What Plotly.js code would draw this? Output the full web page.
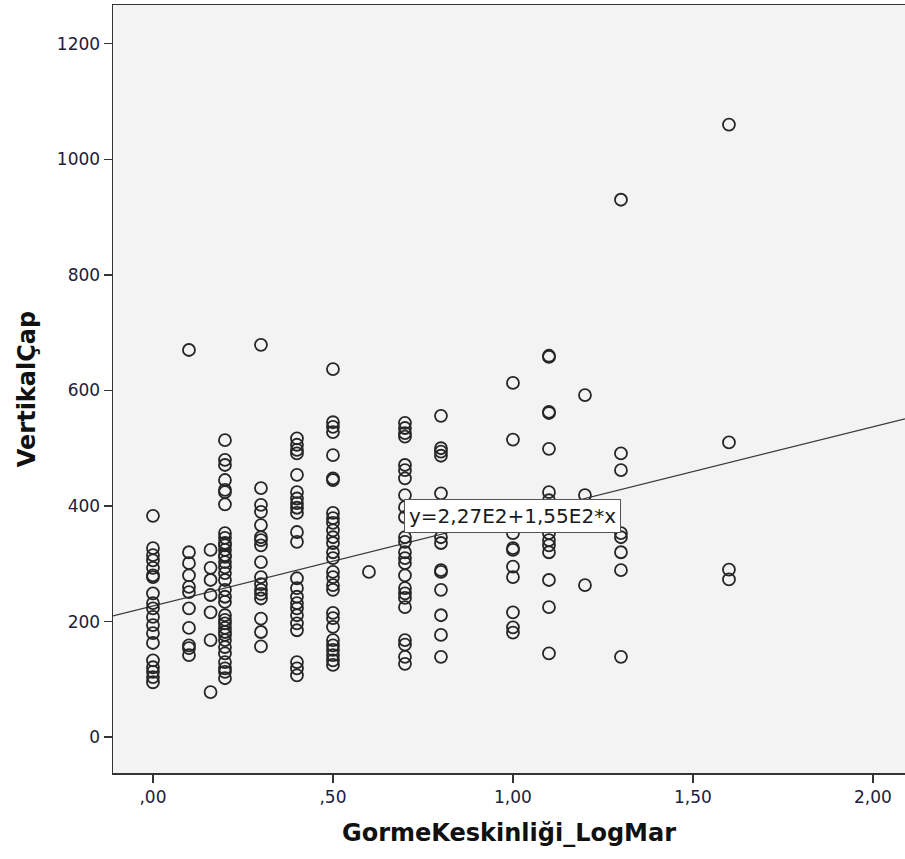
<!DOCTYPE html>
<html>
<head>
<meta charset="utf-8">
<script src="https://cdn.plot.ly/plotly-3.0.1.min.js"></script>
<style>
  html, body { margin: 0; padding: 0; background: #ffffff; }
  #chart { width: 905px; height: 859px; }
</style>
</head>
<body>
<div id="chart"></div>
<script>
// Vertical diameter measured at each LogMAR visual-acuity level
const logmarLevels = [0, 0.1, 0.16, 0.2, 0.3, 0.4, 0.5, 0.6, 0.7, 0.8, 1.0, 1.1, 1.2, 1.3, 1.6];

const cap_000 = [383, 327, 315, 306, 293, 280, 277, 249, 232, 223, 208, 194, 180, 163, 133, 121, 113, 104, 95];
const cap_010 = [670, 320, 301, 280, 260, 251, 223, 189, 159, 154, 142];
const cap_016 = [324, 293, 272, 246, 216, 168, 78];
const cap_020 = [514, 480, 471, 445, 428, 424, 403, 353, 345, 336, 332, 324, 315, 312, 303, 294, 284, 272, 255, 243, 234, 211, 203, 197, 189, 182, 177, 168, 156, 145, 130, 119, 113, 102];
const cap_030 = [679, 431, 402, 390, 367, 346, 341, 332, 303, 277, 265, 255, 248, 240, 205, 182, 157];
const cap_040 = [517, 506, 497, 491, 454, 424, 413, 405, 397, 388, 355, 338, 275, 258, 243, 232, 223, 211, 197, 185, 130, 119, 107];
const cap_050 = [637, 545, 537, 528, 488, 448, 445, 388, 379, 371, 358, 346, 336, 320, 310, 286, 277, 263, 255, 215, 206, 191, 168, 159, 151, 142, 133, 125];
const cap_060 = [286];
const cap_070 = [544, 535, 526, 520, 471, 462, 448, 419, 398, 381, 346, 338, 320, 310, 301, 280, 258, 249, 241, 225, 168, 160, 139, 127];
const cap_080 = [556, 500, 494, 487, 422, 346, 336, 289, 286, 255, 211, 177, 139];
const cap_100 = [613, 515, 353, 327, 324, 295, 277, 216, 190, 181];
const cap_110 = [660, 658, 563, 561, 499, 424, 410, 353, 341, 332, 320, 272, 225, 145];
const cap_120 = [592, 419, 263];
const cap_130 = [930, 491, 462, 353, 346, 320, 289, 139];
const cap_160 = [1060, 510, 290, 273];

const capByLevel = [cap_000, cap_010, cap_016, cap_020, cap_030, cap_040, cap_050, cap_060,
                    cap_070, cap_080, cap_100, cap_110, cap_120, cap_130, cap_160];

// Linear fit: y = 2,27E2 + 1,55E2 * x
const fitIntercept = 227;
const fitSlope = 155;

const xTickVals = [0, 0.5, 1.0, 1.5, 2.0];
const xTickText = [",00", ",50", "1,00", "1,50", "2,00"];
const yTickVals = [0, 200, 400, 600, 800, 1000, 1200];

const xRange = [-0.111, 2.089];
const yRange = [-62, 1267];

const px = [], py = [];
logmarLevels.forEach((lv, i) => {
  capByLevel[i].forEach(v => { px.push(lv); py.push(v); });
});

const scatter = {
  type: 'scatter',
  mode: 'markers',
  x: px,
  y: py,
  marker: {
    symbol: 'circle-open',
    size: 12,
    color: '#262626',
    line: { width: 1.8, color: '#262626' }
  },
  hoverinfo: 'x+y',
  showlegend: false
};

const fitLine = {
  type: 'scatter',
  mode: 'lines',
  x: xRange,
  y: xRange.map(v => fitIntercept + fitSlope * v),
  line: { color: '#3a3a3a', width: 1.2 },
  hoverinfo: 'skip',
  showlegend: false
};

const tickFont = { family: 'DejaVu Sans, Verdana, sans-serif', size: 17, color: '#20203a' };
const titleFont = { family: 'DejaVu Sans, sans-serif', size: 24, color: '#111111', weight: 'bold' };

const layout = {
  width: 905,
  height: 859,
  margin: { l: 113, r: 0, t: 5, b: 86 },
  paper_bgcolor: '#ffffff',
  plot_bgcolor: '#f3f3f3',
  xaxis: {
    range: xRange,
    tickvals: xTickVals,
    ticktext: xTickText,
    ticks: 'outside',
    ticklen: 8,
    tickwidth: 1.5,
    tickcolor: '#333333',
    tickfont: tickFont,
    showgrid: false,
    zeroline: false,
    showline: true,
    mirror: true,
    linecolor: '#333333',
    linewidth: 1.5,
    title: { text: 'GormeKeskinliği_LogMar', font: titleFont, standoff: 18 }
  },
  yaxis: {
    range: yRange,
    tickvals: yTickVals,
    ticks: 'outside',
    ticklen: 8,
    tickwidth: 1.5,
    tickcolor: '#333333',
    tickfont: tickFont,
    showgrid: false,
    zeroline: false,
    showline: true,
    mirror: false,
    linecolor: '#333333',
    linewidth: 1.5,
    title: { text: 'VertikalÇap', font: titleFont, standoff: 14 }
  },
  annotations: [{
    x: 1.0,
    y: 382,
    xref: 'x',
    yref: 'y',
    text: 'y=2,27E2+1,55E2*x',
    showarrow: false,
    font: { family: 'DejaVu Sans, Verdana, sans-serif', size: 20, color: '#1a1a1a' },
    bgcolor: '#ffffff',
    bordercolor: '#555555',
    borderwidth: 1,
    borderpad: 4
  }]
};

Plotly.newPlot('chart', [fitLine, scatter], layout, { displayModeBar: false, staticPlot: true });
</script>
</body>
</html>
